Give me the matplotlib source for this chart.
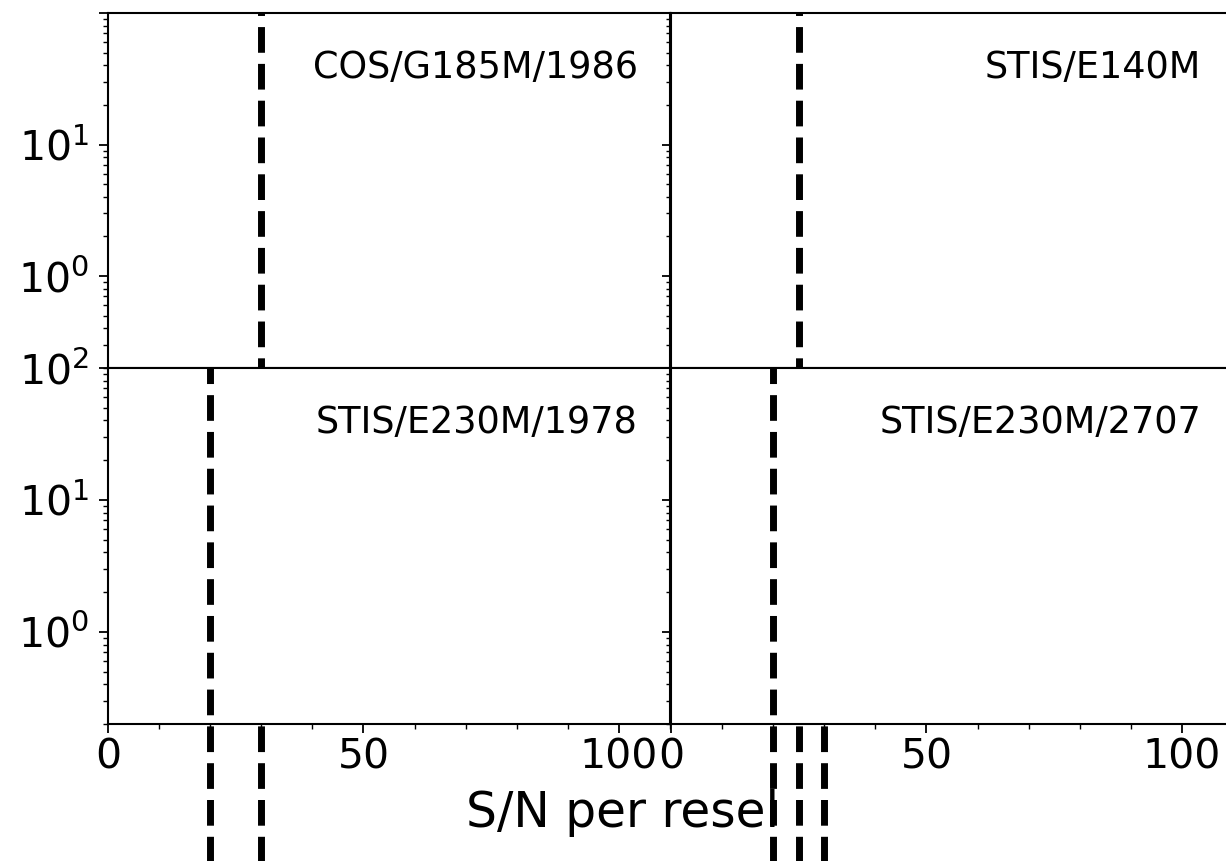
"""
S/N per resel panels: dashed markers for each instrument setting
"""

import matplotlib
matplotlib.use('Agg')
import matplotlib.pyplot as plt
from matplotlib.ticker import MultipleLocator, FuncFormatter, LogLocator
import numpy as np

# panel data
panel_labels = ['COS/G185M/1986', 'STIS/E140M', 'STIS/E230M/1978', 'STIS/E230M/2707']
panel_sn = [[30], [25], [20], [20]]          # S/N lines inside each panel
panel_sn_hidden = [[], [30], [], []]         # lines that only show below the panels
x_ticks = [0, 50, 100]
y_min, y_max = 0.2, 100

W, H = 1226, 861
fig = plt.figure(figsize=(W / 100, H / 100), dpi=100)

# panel boxes in pixels: (left, top, right, bottom)
boxes = [(108, 13, 670, 368), (671, 13, 1233, 368),
         (108, 368, 670, 724), (671, 368, 1233, 724)]


def decade_fmt(hide_top):
    def f(v, pos):
        if v <= 0:
            return ''
        e = int(round(np.log10(v)))
        if abs(np.log10(v) - e) > 1e-6:
            return ''
        if hide_top and v >= y_max:
            return ''
        return r'$\mathdefault{10^{%d}}$' % e
    return f


for idx, (l, t, r, b) in enumerate(boxes):
    ax = fig.add_axes([l / W, (H - b) / H, (r - l) / W, (b - t) / H])
    ax.set_yscale('log')
    ax.set_ylim(y_min, y_max)
    ax.set_xlim(0, 110)

    ax.xaxis.set_major_locator(MultipleLocator(50))
    ax.xaxis.set_minor_locator(MultipleLocator(10))
    ax.set_xticks(x_ticks)
    ax.yaxis.set_major_locator(LogLocator(base=10))
    ax.yaxis.set_minor_locator(LogLocator(base=10, subs=np.arange(2, 10)))
    ax.yaxis.set_major_formatter(FuncFormatter(decade_fmt(idx == 0)))
    ax.yaxis.set_minor_formatter(FuncFormatter(lambda v, p: ''))

    ax.tick_params(which='major', direction='out', length=6.5, width=1.3, labelsize=29.5)
    ax.tick_params(which='minor', direction='out', length=3.5, width=1.0)
    ax.tick_params(axis='y', which='major', pad=7)
    for s in ax.spines.values():
        s.set_linewidth(1.5)

    if idx < 2:
        ax.tick_params(labelbottom=False)
    if idx % 2 == 1:
        ax.tick_params(labelleft=False)

    # dashed S/N markers run on past the bottom of the panel
    for sn in panel_sn[idx]:
        ax.axvline(sn, ymin=-4, ymax=1, color='black', linestyle='--',
                   linewidth=5, clip_on=False)
    for sn in panel_sn_hidden[idx]:
        ax.axvline(sn, ymin=-4, ymax=0, color='black', linestyle='--',
                   linewidth=5, clip_on=False)

    ax.text(0.943, 0.9, panel_labels[idx], transform=ax.transAxes,
            ha='right', va='top', fontsize=26.4)

fig.text(622 / W, (H - 827) / H, 'S/N per resel', ha='center', va='baseline',
         fontsize=35, zorder=-1)

plt.savefig('out.png', dpi=100)
plt.close(fig)
